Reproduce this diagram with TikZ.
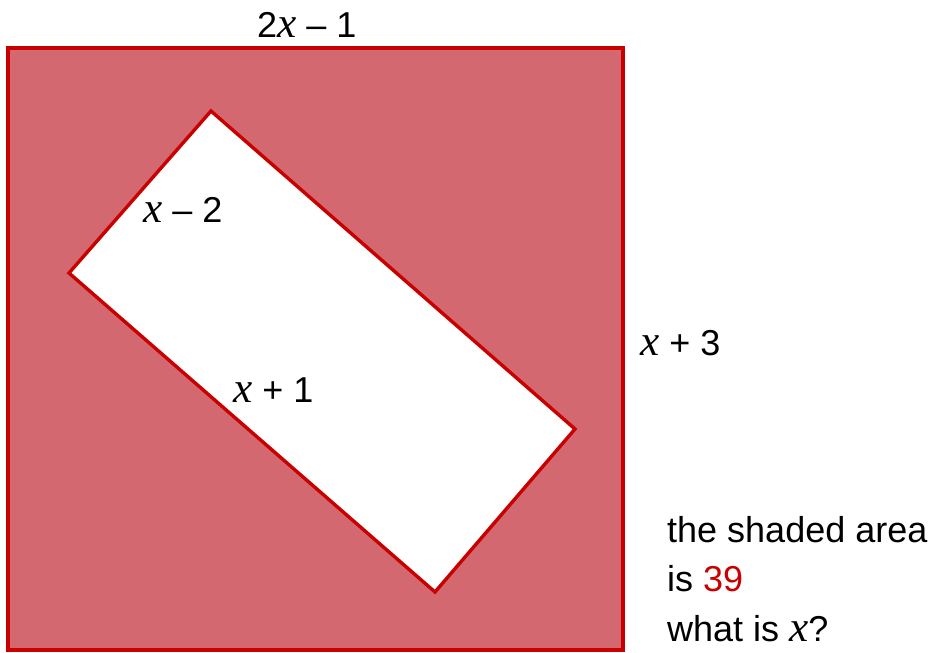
\documentclass[tikz,border=0pt]{standalone}
\usepackage{fontspec}
\setmainfont{Liberation Sans}
\newfontfamily\varfont[Scale=1.2]{Liberation Serif}
\usepackage{tikz}
\usetikzlibrary{positioning}
\definecolor{edgered}{RGB}{200,0,0}
\definecolor{shadered}{RGB}{212,104,112}
\newcommand{\vx}{{\varfont\itshape x}}

\begin{document}
\begin{tikzpicture}[
  x=1pt, y=-1pt,
  outer/.style={draw=edgered, line width=3.4pt, fill=shadered},
  inner/.style={draw=edgered, line width=3.4pt, fill=white, line join=miter},
  lbl/.style={anchor=base west, inner sep=0pt, font=\fontsize{36}{44}\selectfont}
]
\useasboundingbox (0,0) rectangle (935,653);
% outer square
\coordinate (sqNW) at (8,48);
\coordinate (sqSE) at (623,650);
\draw[outer] (sqNW) rectangle (sqSE);
% tilted rectangle
\coordinate (rTop) at (211,111);
\coordinate (rLeft) at (69,273);
\coordinate (rBot) at (435,592);
\coordinate (rRight) at (575,429);
\draw[inner] (rTop) -- (rLeft) -- (rBot) -- (rRight) -- cycle;
% side labels
\node[lbl] (topside) at (257,37) {2\vx{} – 1};
\node[lbl] (rightside) at (640,355) {\vx{} + 3};
\node[lbl] (shortside) at (143,222) {\vx{} – 2};
\node[lbl] (longside) at (233,402) {\vx{} + 1};
% question
\node[lbl] (qa) at (667,542) {the shaded area};
\node[lbl] (qb) at (667,591) {is \textcolor{edgered}{39}};
\node[lbl] (qc) at (667,641) {what is \vx?};
\end{tikzpicture}
\end{document}
